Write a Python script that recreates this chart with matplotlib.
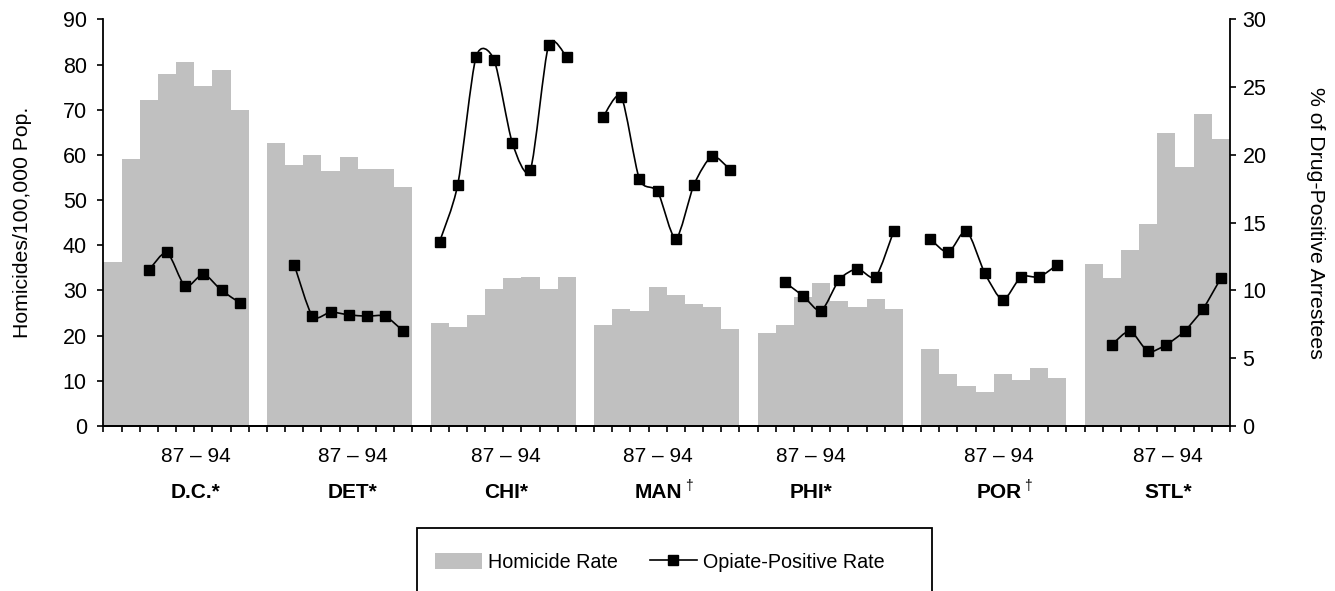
import numpy as np
import matplotlib
matplotlib.use("Agg")
import matplotlib.pyplot as plt
import matplotlib.transforms as mtransforms
from matplotlib.path import Path
from matplotlib.patches import PathPatch, Rectangle, Patch
from matplotlib.lines import Line2D

# categories
years = ["87", "88", "89", "90", "91", "92", "93", "94"]
cities = ["D.C.", "DET", "CHI", "MAN", "PHI", "POR", "STL"]
city_marks = ["*", "*", "*", "\u2020", "*", "\u2020", "*"]

# homicides per 100,000 (left axis)
hom_dc = [36.2, 59.0, 72.1, 77.9, 80.5, 75.2, 78.7, 69.9]
hom_det = [62.6, 57.8, 59.9, 56.4, 59.5, 56.8, 56.8, 52.8]
hom_chi = [22.8, 21.9, 24.6, 30.3, 32.8, 33.0, 30.3, 33.0]
hom_man = [22.4, 25.8, 25.4, 30.8, 29.0, 27.1, 26.3, 21.5]
hom_phi = [20.6, 22.4, 28.5, 31.6, 27.7, 26.3, 28.1, 25.9]
hom_por = [17.0, 11.5, 8.9, 7.5, 11.5, 10.2, 12.8, 10.6]
hom_stl = [35.9, 32.8, 39.0, 44.7, 64.8, 57.3, 69.0, 63.5]

# % opiate-positive arrestees (right axis), None = no data
opi_dc = [None, None, 11.5, 12.8, 10.3, 11.2, 10.0, 9.1]
opi_det = [None, 11.9, 8.1, 8.4, 8.2, 8.1, 8.1, 7.0]
opi_chi = [13.6, 17.8, 27.2, 27.0, 20.9, 18.9, 28.1, 27.2]
opi_man = [22.8, 24.3, 18.2, 17.3, 13.8, 17.8, 19.9, 18.9]
opi_phi = [None, 10.6, 9.6, 8.5, 10.8, 11.6, 11.0, 14.4]
opi_por = [13.8, 12.8, 14.4, 11.3, 9.3, 11.0, 11.0, 11.9]
opi_stl = [None, 6.0, 7.0, 5.5, 6.0, 7.0, 8.6, 10.9]

homicide = [hom_dc, hom_det, hom_chi, hom_man, hom_phi, hom_por, hom_stl]
opiate = [opi_dc, opi_det, opi_chi, opi_man, opi_phi, opi_por, opi_stl]

# layout: 8 slots per city plus one empty slot between cities
slots_per_group = len(years) + 1
n_slots = slots_per_group * len(cities) - 1
label_x = [5.06, 13.7, 22.16, 30.54, 38.93, 49.28, 58.6]

bar_color = "#c0c0c0"
font = "Liberation Sans"
fs_tick = 15.5
fs_label = 15.3
fs_group = 15
fs_legend = 14.2

plt.rcParams["font.family"] = [font, "DejaVu Sans"]
plt.rcParams["font.size"] = fs_tick


def smooth_path(xs, ys, k=1 / 8):
    # smoothed line like the spreadsheet: cardinal spline as cubic Beziers
    pts = np.column_stack([xs, ys])
    n = len(pts)
    verts = [pts[0]]
    codes = [Path.MOVETO]
    for i in range(n - 1):
        p0 = pts[max(i - 1, 0)]
        p1 = pts[i]
        p2 = pts[i + 1]
        p3 = pts[min(i + 2, n - 1)]
        verts += [p1 + (p2 - p0) * k, p2 - (p3 - p1) * k, p2]
        codes += [Path.CURVE4] * 3
    return Path(verts, codes)


fig = plt.figure(figsize=(13.35, 5.91), dpi=100)
ax = fig.add_axes([0.0775, 0.2792, 0.8438, 0.6881])
ax2 = ax.twinx()

for g, city in enumerate(cities):
    start = g * slots_per_group
    xs = np.arange(len(years)) + start + 0.5
    ax.bar(xs, homicide[g], width=1.0, color=bar_color, linewidth=0)

    vals = opiate[g]
    lx = [x for x, v in zip(xs, vals) if v is not None]
    ly = [v for v in vals if v is not None]
    ax2.add_patch(PathPatch(smooth_path(lx, ly), facecolor="none",
                            edgecolor="black", linewidth=1.2, zorder=3))
    ax2.plot(lx, ly, linestyle="none", marker="s", markersize=7,
             color="black", zorder=4)

ax.set_xlim(0, n_slots)
ax.set_ylim(0, 90)
ax.set_yticks(range(0, 91, 10))
ax2.set_ylim(0, 30)
ax2.set_yticks(range(0, 31, 5))

ax.set_xticks(range(n_slots + 1))
ax.set_xticklabels([])
ax.tick_params(axis="x", direction="out", length=4, width=1.2)
ax.tick_params(axis="y", direction="out", length=4, width=1.2, pad=8,
               labelsize=fs_tick)
ax2.tick_params(axis="y", direction="out", length=4, width=1.2, pad=5,
                labelsize=fs_tick)

for a in (ax, ax2):
    a.spines["top"].set_visible(False)
    for s in a.spines.values():
        s.set_linewidth(1.3)
ax.spines["right"].set_visible(False)
ax2.spines["left"].set_visible(False)

ax.set_ylabel("Homicides/100,000 Pop.", fontsize=fs_label, labelpad=22)
ax2.set_ylabel("% of Drug-Positive Arrestees", fontsize=fs_label,
               rotation=270, labelpad=42)

# group labels under the axis
trans = mtransforms.blended_transform_factory(ax.transData, fig.transFigure)
for x, city, mark in zip(label_x, cities, city_marks):
    ax.text(x, 1 - 457 / 591, f"{years[0]} \u2013 {years[-1]}", transform=trans,
            ha="center", va="center", fontsize=fs_group)
    if mark == "*":
        ax.text(x, 1 - 493 / 591, city + mark, transform=trans, ha="center",
                va="center", fontsize=fs_group, fontweight="bold")
    else:
        t = ax.text(x, 1 - 493 / 591, city, transform=trans, ha="center",
                    va="center", fontsize=fs_group, fontweight="bold")
        ax.annotate(mark, xy=(1, 1), xycoords=t, xytext=(2, 3),
                    textcoords="offset points", ha="left", va="top",
                    fontsize=10)

# legend box, cut off by the bottom of the figure as in the source
fig.patches.append(Rectangle((417 / 1335, -0.1), (932 - 417) / 1335,
                             0.1 + 1 - 528 / 591, transform=fig.transFigure,
                             facecolor="white", edgecolor="black",
                             linewidth=1.3))
handles = [Patch(facecolor=bar_color, edgecolor="none"),
           Line2D([], [], color="black", linewidth=1.2, marker="s",
                  markersize=7)]
fig.legend(handles, ["Homicide Rate", "Opiate-Positive Rate"], ncol=2,
           loc="center left", bbox_to_anchor=(435 / 1335, 1 - 562 / 591),
           frameon=False, borderpad=0, borderaxespad=0, handlelength=2.4,
           handleheight=0.85, handletextpad=0.3, columnspacing=1.6,
           fontsize=fs_legend)

fig.savefig("out.png", dpi=100)
